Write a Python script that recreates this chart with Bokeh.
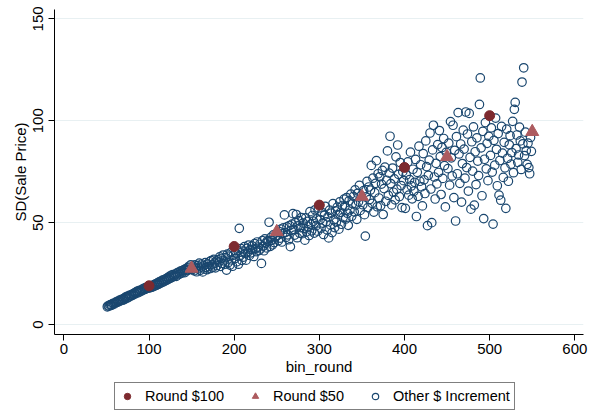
from bokeh.plotting import figure
from bokeh.models import Range1d, FixedTicker, Legend, LegendItem
from bokeh.layouts import column
from bokeh.embed import file_html
from bokeh.resources import INLINE

# ---- data ----
x_round100 = [100, 200, 300, 400, 500]
sd_round100 = [19.0, 38.3, 58.6, 77.1, 102.5]

x_round50 = [150, 250, 350, 450, 550]
sd_round50 = [27.5, 45.5, 62.8, 82.3, 94.6]

x_other = [b for b in range(51, 550) if b % 50 != 0]
sd_other = [
    8.7, 9.2, 9.0, 9.5, 9.8, 9.4, 10.1, 10.4, 10.0,
    10.5, 11.0, 10.8, 11.4, 11.1, 11.8, 11.5, 12.1, 12.4, 11.9,
    12.7, 12.3, 13.2, 13.6, 12.9, 13.9, 13.4, 14.3, 14.0, 14.6,
    14.2, 15.0, 14.7, 15.5, 15.1, 15.9, 16.3, 15.6, 16.6, 16.0,
    16.8, 16.4, 17.3, 16.9, 17.8, 17.2, 18.1, 17.6, 18.4, 17.9,
    18.0, 18.7, 18.3, 19.2, 18.6, 19.6, 19.0, 20.0, 19.3,
    20.4, 19.7, 20.9, 20.2, 21.3, 20.6, 21.8, 21.0, 22.1, 21.4,
    22.5, 21.8, 23.0, 22.3, 23.6, 22.7, 24.1, 23.2, 24.5, 23.5,
    24.0, 24.8, 23.6, 25.3, 24.4, 25.7, 24.9, 26.2, 25.1, 26.5,
    25.8, 26.9, 25.5, 27.3, 26.4, 27.8, 26.7, 28.6, 27.1, 29.3,
    27.0, 28.6, 26.4, 29.3, 27.7, 25.9, 28.9, 27.4, 30.1,
    26.6, 28.2, 29.7, 25.8, 28.8, 27.3, 30.4, 28.0, 26.9, 29.6,
    28.4, 30.8, 27.5, 31.4, 29.3, 28.1, 32.0, 30.2, 27.8, 31.1,
    29.0, 31.8, 30.6, 33.2, 28.5, 32.4, 30.0, 34.1, 31.2, 29.6,
    32.8, 26.7, 34.5, 30.4, 33.6, 29.2, 35.3, 31.7, 28.6, 34.0,
    32.4, 35.1, 30.8, 36.4, 29.6, 47.2, 33.8, 37.2, 31.5,
    36.0, 33.1, 38.2, 34.9, 31.6, 37.4, 35.5, 39.0, 33.9, 36.8,
    35.2, 38.6, 36.9, 33.4, 39.7, 37.3, 35.8, 40.5, 38.0, 36.3,
    39.4, 37.1, 30.0, 41.2, 38.5, 36.2, 42.0, 39.9, 37.6, 41.0,
    40.6, 50.2, 38.3, 42.8, 41.3, 39.1, 44.0, 40.2, 42.5, 43.4,
    43.8, 41.2, 45.6, 42.4, 46.8, 40.5, 44.7, 47.5, 53.8,
    45.1, 42.8, 47.9, 44.0, 41.6, 48.6, 38.2, 46.2, 49.3, 54.4,
    46.7, 43.9, 50.1, 54.0, 42.6, 48.4, 51.0, 44.8, 47.6, 52.5,
    44.6, 49.8, 47.2, 41.4, 52.3, 45.5, 50.6, 48.1, 43.7, 55.4,
    49.2, 46.0, 53.5, 50.7, 44.9, 56.3, 48.4, 51.8, 45.8, 57.2,
    51.5, 47.3, 55.0, 49.8, 44.2, 53.6, 58.0, 50.4, 46.5,
    52.8, 42.5, 56.1, 48.9, 54.7, 45.1, 59.3, 51.4, 47.6, 55.8,
    50.3, 57.6, 53.9, 46.8, 60.2, 55.1, 49.2, 58.4, 52.6, 61.5,
    57.9, 51.8, 62.3, 54.6, 48.7, 60.8, 56.2, 64.0, 53.1, 59.4,
    62.9, 55.3, 66.1, 58.7, 51.6, 64.4, 60.2, 68.3, 56.0, 63.1,
    58.8, 65.7, 53.9, 43.4, 62.6, 70.2, 57.4, 67.5, 61.3,
    66.0, 78.1, 59.5, 71.8, 55.2, 64.7, 69.3, 80.4, 57.8, 74.0,
    62.1, 72.5, 58.3, 68.9, 75.6, 54.0, 66.7, 77.2, 60.5, 70.8,
    85.2, 63.4, 74.3, 92.4, 69.1, 58.7, 76.8, 64.9, 71.5, 61.2,
    82.3, 66.4, 88.1, 73.7, 62.8, 79.5, 68.2, 57.4, 75.0, 70.6,
    57.0, 73.4, 66.2, 79.8, 63.5, 71.1, 84.6, 68.0, 61.7,
    76.2, 65.4, 69.8, 81.0, 53.0, 74.7, 62.9, 87.5, 70.3, 78.4,
    67.6, 58.2, 83.9, 71.0, 64.3, 90.1, 77.5, 48.5, 73.2, 80.7,
    94.0, 66.5, 50.0, 85.7, 97.8, 72.4, 61.6, 79.1, 69.0, 88.3,
    74.6, 95.2, 82.4, 63.8, 86.9, 71.7, 91.3, 78.0, 57.7, 84.5,
    76.5, 89.0, 68.4, 99.6, 81.8, 72.9, 97.8, 62.3, 85.5,
    50.8, 92.2, 74.0, 104.0, 83.7, 69.3, 88.6, 60.1, 79.0, 95.4,
    86.1, 71.8, 104.3, 77.0, 93.5, 65.5, 103.6, 82.0, 56.6, 89.7,
    75.3, 97.0, 58.6, 84.8, 68.7, 91.6, 80.2, 73.1, 108.0, 121.0,
    86.7, 63.2, 94.8, 52.0, 81.1, 99.1, 76.4, 88.9, 70.6, 92.3,
    83.0, 96.5, 74.8, 49.3, 90.4, 78.2, 101.3, 86.0, 68.1,
    93.7, 63.5, 80.5, 61.0, 97.2, 84.1, 72.2, 89.4, 76.9, 57.0,
    95.9, 81.6, 70.3, 88.2, 92.7, 78.7, 84.4, 99.7, 74.5, 105.6,
    109.0, 86.3, 93.0, 79.6, 83.2, 96.9, 90.1, 76.1, 119.0, 88.7,
    126.0, 82.9, 94.4, 85.3, 78.6, 89.0, 77.0, 74.0, 91.8, 85.0,
]
assert len(x_other) == len(sd_other), (len(x_other), len(sd_other))

x_ticks = [0, 100, 200, 300, 400, 500, 600]
y_ticks = [0, 50, 100, 150]
series_labels = ["Round $100", "Round $50", "Other $ Increment"]

FONT = "Liberation Sans"
C100 = "#7d2a2f"
C50 = "#ad5b5f"
COTHER = "#1a476f"

p = figure(width=591, height=378, output_backend="svg", toolbar_location=None,
           x_range=Range1d(-11.0, 610.2), y_range=Range1d(-4.9, 154.6),
           min_border_left=54, min_border_right=8, min_border_top=9,
           min_border_bottom=44)
p.outline_line_color = None
p.background_fill_color = "white"
p.border_fill_color = "white"

style_other = dict(marker="circle", fill_color=None, line_color=COTHER, line_width=1.2)
style100 = dict(marker="circle", fill_color=C100, line_color=C100)
style50 = dict(marker="triangle", fill_color=C50, line_color=C50)

p.scatter(x_other, sd_other, size=8.5, **style_other)
p.scatter(x_round100, sd_round100, size=10, **style100)
p.scatter(x_round50, sd_round50, size=13, **style50)

p.xgrid.visible = False
p.ygrid.grid_line_color = "#e8f0f2"
p.ygrid.grid_line_width = 1

for ax in (p.xaxis[0], p.yaxis[0]):
    ax.minor_tick_line_color = None
    ax.major_tick_in = 0
    ax.major_tick_out = 6
    ax.axis_line_color = "black"
    ax.major_tick_line_color = "black"
    ax.major_label_text_color = "black"
    ax.major_label_text_font = FONT
    ax.major_label_text_font_size = "15px"
    ax.axis_label_text_font = FONT
    ax.axis_label_text_font_size = "15px"
    ax.axis_label_text_font_style = "normal"
    ax.axis_label_text_color = "black"

p.xaxis.ticker = FixedTicker(ticks=x_ticks)
p.yaxis.ticker = FixedTicker(ticks=y_ticks)
p.xaxis.axis_label = "bin_round"
p.yaxis.axis_label = "SD(Sale Price)"
p.yaxis.major_label_orientation = "vertical"
p.xaxis.major_label_standoff = 3
p.xaxis.axis_label_standoff = 1
p.yaxis.major_label_standoff = 5
p.yaxis.axis_label_standoff = 2

# legend strip below the chart (its ranges keep the series out of view;
# only the legend keys are shown)
pl = figure(width=591, height=33, output_backend="svg", toolbar_location=None,
            x_range=Range1d(-3, -2), y_range=Range1d(-3, -2), min_border=0,
            x_axis_location=None, y_axis_location=None)
pl.grid.visible = False
pl.outline_line_color = None
pl.background_fill_color = "white"
pl.border_fill_color = "white"
l100 = pl.scatter(x_round100, sd_round100, size=10, **style100)
l50 = pl.scatter(x_round50, sd_round50, size=13, **style50)
lother = pl.scatter(x_other, sd_other, size=8.5, **style_other)

legend = Legend(items=[
    LegendItem(label=series_labels[0], renderers=[l100]),
    LegendItem(label=series_labels[1], renderers=[l50]),
    LegendItem(label=series_labels[2], renderers=[lother]),
], orientation="horizontal", location=(60, 1))
legend.label_text_font = FONT
legend.label_text_font_size = "14.5px"
legend.label_text_color = "black"
legend.border_line_color = "black"
legend.border_line_width = 1
legend.padding = 4
legend.margin = 0
legend.spacing = 23
legend.glyph_width = 16
legend.glyph_height = 18
legend.label_height = 18
legend.label_standoff = 10
legend.background_fill_color = "white"
pl.add_layout(legend, "center")

layout = column(p, pl, spacing=0)
open("out.html", "w").write(file_html(layout, INLINE))
